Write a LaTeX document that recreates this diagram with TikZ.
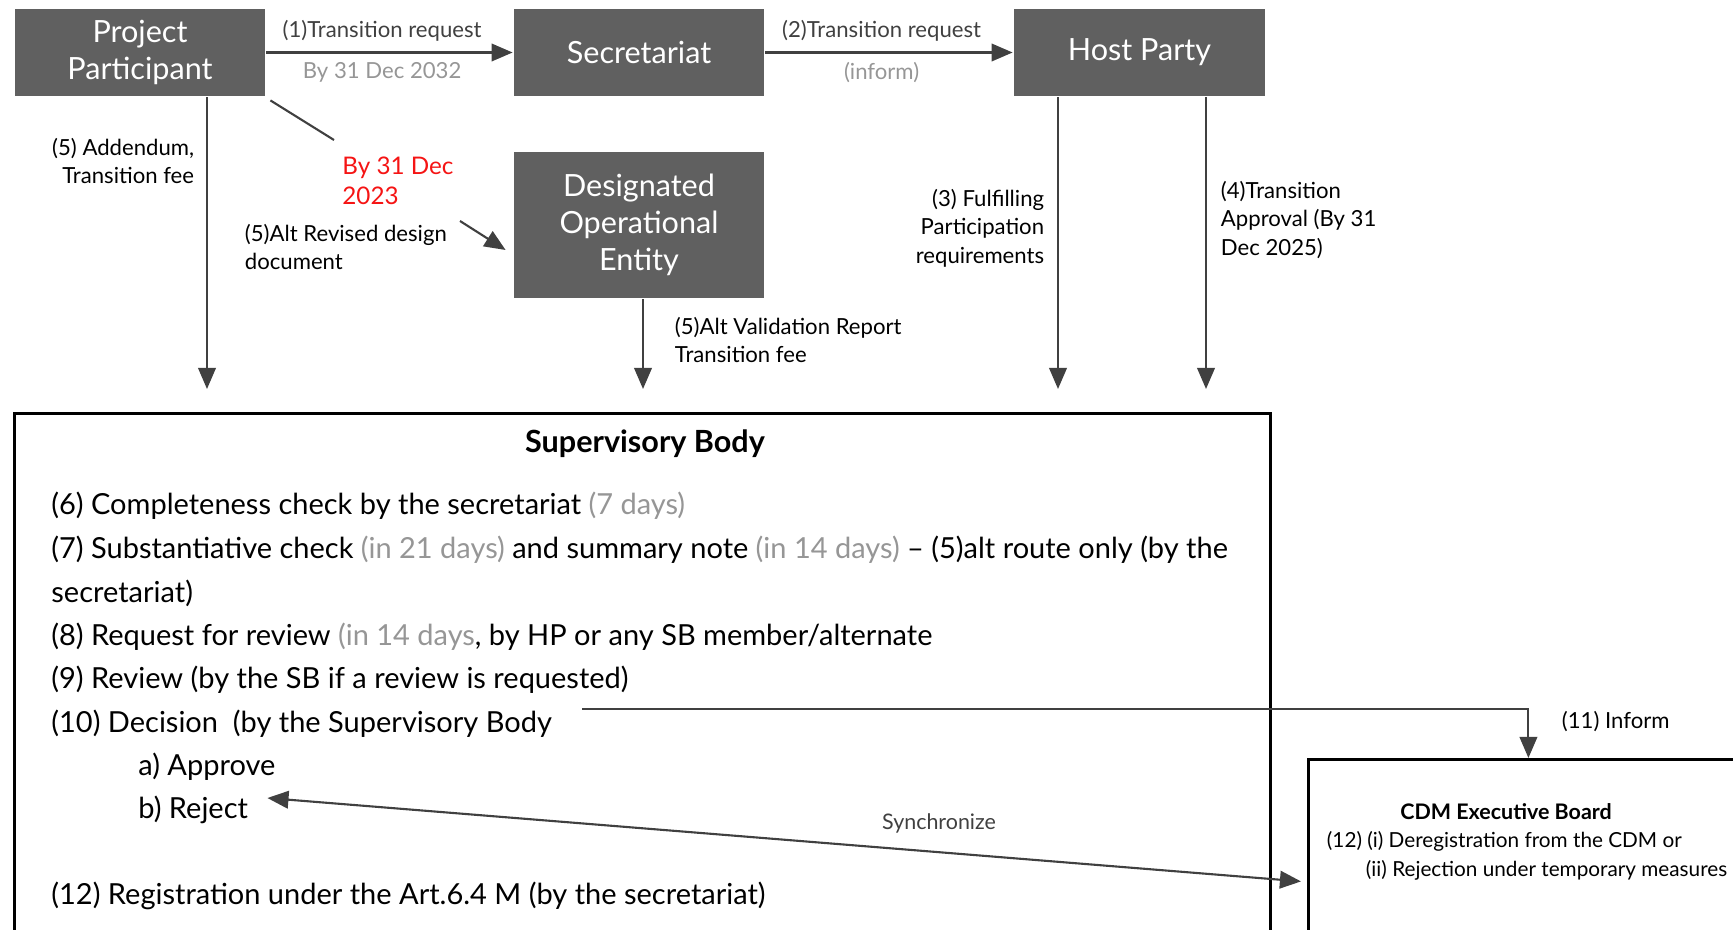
\documentclass[tikz,border=0pt]{standalone}
\usepackage{fontspec}
\setmainfont{Lato}
\usetikzlibrary{arrows.meta}

\definecolor{boxgray}{RGB}{96,96,96}
\definecolor{linegray}{RGB}{64,64,64}
\definecolor{softgray}{RGB}{150,150,150}
\definecolor{datered}{RGB}{245,20,20}
\newcommand{\sbfont}{\fontsize{8.25}{9.5}\selectfont}
\newcommand{\lblfont}{\fontsize{6.3}{8.1}\selectfont}
\newcommand{\soft}[1]{\textcolor{softgray}{#1}}

\begin{document}
\begin{tikzpicture}[>={Triangle[length=6pt,width=5pt]},thick,
  box/.style={fill=boxgray,text=white,align=center,inner sep=0pt,
    minimum width=2.5cm,minimum height=0.87cm,font=\fontsize{8.7}{10.5}\selectfont},
  arr/.style={->,line width=0.6pt,color=linegray},
  lbl/.style={font=\lblfont,inner sep=1pt},
  sbline/.style={anchor=west,font=\sbfont,inner sep=0pt},
  frame/.style={draw=black,line width=0.8pt,inner sep=0pt}]

\useasboundingbox (0,0) rectangle (17.33,9.29);
\clip (0,0) rectangle (17.33,9.29);

\node[box] (pp) at (1.40,8.765) {Project\\Participant};
\node[box] (sec) at (6.39,8.765) {Secretariat};
\node[box,minimum width=2.51cm] (hp) at (11.395,8.765) {Host Party};
\node[box,minimum height=1.46cm] (doe) at (6.39,7.04) {Designated\\Operational\\Entity};

\draw[arr] (pp) -- (sec)
  node[lbl,pos=0.47,above=2pt] {(1)Transition request}
  node[lbl,pos=0.47,below=1.5pt,color=softgray] {By 31 Dec 2032};
\draw[arr] (sec) -- (hp)
  node[lbl,pos=0.47,above=2pt] {(2)Transition request}
  node[lbl,pos=0.47,below=1.5pt,color=softgray] {(inform)};

\coordinate (ppEnd) at (2.07,5.40);
\coordinate (doeEnd) at (6.43,5.40);
\coordinate (hpEndA) at (10.58,5.40);
\coordinate (hpEndB) at (12.06,5.40);
\draw[arr] (pp.south -| ppEnd) -- (ppEnd);
\draw[arr] (doe.south -| doeEnd) -- (doeEnd);
\draw[arr] (hp.south -| hpEndA) -- (hpEndA);
\draw[arr] (hp.south -| hpEndB) -- (hpEndB);

\node[lbl,anchor=east,align=right] at (1.99,7.68) {(5) Addendum,\\Transition fee};
\node[lbl,anchor=west,align=left] at (6.70,5.89) {(5)Alt Validation Report\\Transition fee};
\node[lbl,anchor=east,align=right] at (10.49,7.01) {(3) Fulfilling\\Participation\\requirements};
\node[lbl,anchor=west,align=left] at (12.16,7.09) {(4)Transition\\Approval (By 31\\Dec 2025)};

\coordinate (altA) at (3.34,7.89);
\coordinate (altB) at (4.60,7.08);
\draw[line width=0.6pt,color=linegray] ([shift={(0.04,-0.03)}]pp.south east) -- (altA);
\draw[arr] (altB) -- ([shift={(-0.07,-0.25)}]doe.west);
\node[anchor=west,align=left,inner sep=0pt,color=datered,font=\fontsize{6.9}{8.4}\selectfont] at (3.41,7.48) {By 31 Dec\\2023};
\node[lbl,anchor=west,align=left] at (2.40,6.82) {(5)Alt Revised design\\document};

\node[frame,anchor=north west,minimum width=12.56cm,minimum height=6cm] (sb) at (0.13,5.17) {};
\node[font=\fontsize{8.7}{9.5}\selectfont\bfseries] (sbTitle) at (6.45,4.85) {Supervisory Body};

\node[sbline] (s6) at (0.50,4.23) {(6) Completeness check by the secretariat \soft{(7 days)}};
\node[sbline] (s7) at (0.50,3.79) {(7) Substantiative check \soft{(in 21 days)} and summary note \soft{(in 14 days)} -- (5)alt route only (by the};
\node[sbline] (s7b) at (0.50,3.36) {secretariat)};
\node[sbline] (s8) at (0.50,2.92) {(8) Request for review \soft{(in 14 days}, by HP or any SB member/alternate};
\node[sbline] (s9) at (0.50,2.49) {(9) Review (by the SB if a review is requested)};
\node[sbline] (s10) at (0.50,2.05) {(10) Decision\ \ (by the Supervisory Body};
\node[sbline] (s10a) at (1.37,1.62) {a) Approve};
\node[sbline] (s10b) at (1.37,1.19) {b) Reject};
\node[sbline] (s12) at (0.50,0.33) {(12) Registration under the Art.6.4 M (by the secretariat)};

\node[frame,anchor=north west,minimum width=4.4cm,minimum height=3cm] (cdm) at (13.07,1.71) {};
\node[font=\fontsize{6.1}{7}\selectfont\bfseries] (cdmTitle) at (15.06,1.17) {CDM Executive Board};
\node[anchor=west,inner sep=1pt,font=\fontsize{5.9}{7}\selectfont] (cdm1) at (13.22,0.88) {(12) (i) Deregistration from the CDM or};
\node[anchor=west,inner sep=1pt,font=\fontsize{5.9}{7}\selectfont] (cdm2) at (13.61,0.59) {(ii) Rejection under temporary measures};

\coordinate (infA) at (5.82,2.20);
\draw[arr] (infA) -| (cdm.north);
\node[lbl,anchor=west] at (15.57,2.07) {(11) Inform};

\draw[<->,line width=0.6pt,color=linegray] ([shift={(0.18,0.12)}]s10b.east) -- ([shift={(-0.06,0.28)}]cdm.west);
\node[lbl,color=linegray,font=\fontsize{6.1}{7}\selectfont] at (9.39,1.06) {Synchronize};

\end{tikzpicture}
\end{document}
